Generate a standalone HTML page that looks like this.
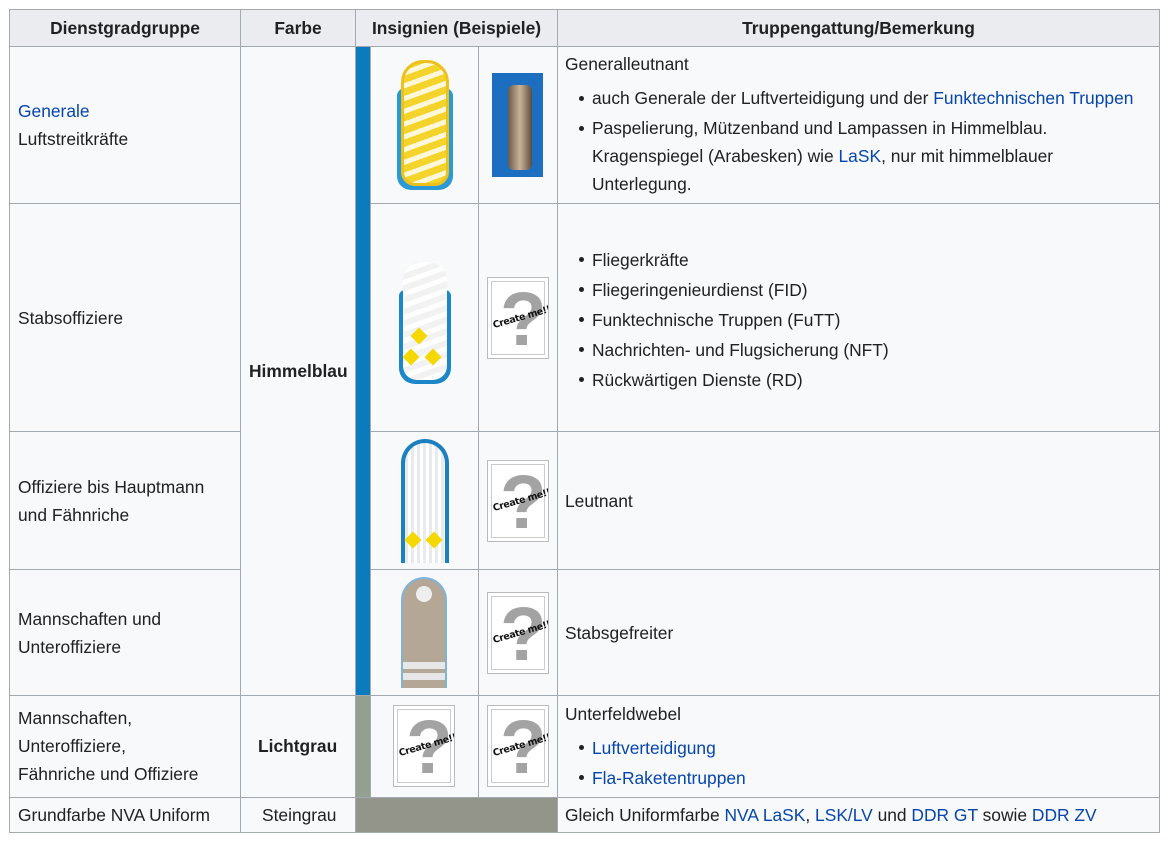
<!DOCTYPE html>
<html><head><meta charset="utf-8"><style>
*{margin:0;padding:0;box-sizing:border-box}
body{width:1172px;height:842px;background:#fff;font-family:"Liberation Sans",sans-serif;font-size:17.4px;color:#202122;position:relative;overflow:hidden}
.c{position:absolute;background:#f8f9fa;border:1px solid #a2a9b1}
.h{background:#eaecf0;font-weight:bold;text-align:center;line-height:36px}
.t{position:absolute;line-height:28px;white-space:nowrap}
a{color:#0645ad;text-decoration:none}
ul{list-style:none}
li{position:relative;padding-left:27px}
li:before{content:"";position:absolute;left:14px;top:12px;width:5px;height:5px;border-radius:50%;background:#202122}
.ph{position:absolute;width:62px;height:82px;background:#fff;border:1px solid #bbb;box-shadow:inset 0 0 0 3px #fff,inset 0 0 0 4px #ccc;overflow:hidden}
.ph b{position:absolute;left:12px;top:-3px;font-size:76px;color:#a3a3a3;font-family:"Liberation Sans",sans-serif;font-weight:bold;line-height:90px}
.ph i{position:absolute;left:4px;top:34px;font-size:9.5px;font-style:normal;font-weight:bold;color:#111;transform:rotate(-16deg);font-family:"DejaVu Sans",sans-serif;white-space:nowrap;letter-spacing:-0.4px}
</style></head><body>
<div class="c h" style="left:9px;top:9px;width:232px;height:38px">Dienstgradgruppe</div>
<div class="c h" style="left:240px;top:9px;width:116px;height:38px">Farbe</div>
<div class="c h" style="left:355px;top:9px;width:203px;height:38px">Insignien (Beispiele)</div>
<div class="c h" style="left:557px;top:9px;width:603px;height:38px">Truppengattung/Bemerkung</div>

<div class="c" style="left:9px;top:46px;width:232px;height:158px"></div>
<div class="c" style="left:9px;top:203px;width:232px;height:229px"></div>
<div class="c" style="left:9px;top:431px;width:232px;height:139px"></div>
<div class="c" style="left:9px;top:569px;width:232px;height:127px"></div>
<div class="c" style="left:9px;top:695px;width:232px;height:103px"></div>
<div class="c" style="left:9px;top:797px;width:232px;height:36px"></div>

<div class="c" style="left:240px;top:46px;width:116px;height:650px"></div>
<div class="c" style="left:240px;top:695px;width:116px;height:103px"></div>
<div class="c" style="left:240px;top:797px;width:116px;height:36px"></div>

<div style="position:absolute;left:355px;top:46px;width:16px;height:650px;background:#0b7bbd;border:1px solid #a2a9b1"></div>
<div style="position:absolute;left:355px;top:695px;width:16px;height:103px;background:#93a08f;border:1px solid #a2a9b1"></div>
<div style="position:absolute;left:355px;top:797px;width:203px;height:36px;background:#94958a;border:1px solid #a2a9b1"></div>

<div class="c" style="left:370px;top:46px;width:109px;height:158px"></div>
<div class="c" style="left:478px;top:46px;width:80px;height:158px"></div>
<div class="c" style="left:370px;top:203px;width:109px;height:229px"></div>
<div class="c" style="left:478px;top:203px;width:80px;height:229px"></div>
<div class="c" style="left:370px;top:431px;width:109px;height:139px"></div>
<div class="c" style="left:478px;top:431px;width:80px;height:139px"></div>
<div class="c" style="left:370px;top:569px;width:109px;height:127px"></div>
<div class="c" style="left:478px;top:569px;width:80px;height:127px"></div>
<div class="c" style="left:370px;top:695px;width:109px;height:103px"></div>
<div class="c" style="left:478px;top:695px;width:80px;height:103px"></div>

<div class="c" style="left:557px;top:46px;width:603px;height:158px"></div>
<div class="c" style="left:557px;top:203px;width:603px;height:229px"></div>
<div class="c" style="left:557px;top:431px;width:603px;height:139px"></div>
<div class="c" style="left:557px;top:569px;width:603px;height:127px"></div>
<div class="c" style="left:557px;top:695px;width:603px;height:103px"></div>
<div class="c" style="left:557px;top:797px;width:603px;height:36px"></div>

<div class="t" style="left:18px;top:97px"><a>Generale</a><br>Luftstreitkräfte</div>
<div class="t" style="left:18px;top:304px">Stabsoffiziere</div>
<div class="t" style="left:18px;top:473px">Offiziere bis Hauptmann<br>und Fähnriche</div>
<div class="t" style="left:18px;top:605px">Mannschaften und<br>Unteroffiziere</div>
<div class="t" style="left:18px;top:704px">Mannschaften,<br>Unteroffiziere,<br>Fähnriche und Offiziere</div>
<div class="t" style="left:18px;top:801px">Grundfarbe NVA Uniform</div>
<div class="t" style="left:249px;top:357px;font-weight:bold">Himmelblau</div>
<div class="t" style="left:258px;top:732px;font-weight:bold">Lichtgrau</div>
<div class="t" style="left:262px;top:801px">Steingrau</div>

<div class="t" style="left:565px;top:50px">Generalleutnant</div>
<ul class="t" style="left:565px;top:84px">
<li>auch Generale der Luftverteidigung und der <a>Funktechnischen Truppen</a></li>
<li style="margin-top:2px">Paspelierung, Mützenband und Lampassen in Himmelblau.<br>Kragenspiegel (Arabesken) wie <a>LaSK</a>, nur mit himmelblauer<br>Unterlegung.</li></ul>
<ul class="t" style="left:565px;top:245px;line-height:30px">
<li>Fliegerkräfte</li><li>Fliegeringenieurdienst (FID)</li><li>Funktechnische Truppen (FuTT)</li><li>Nachrichten- und Flugsicherung (NFT)</li><li>Rückwärtigen Dienste (RD)</li></ul>
<div class="t" style="left:565px;top:487px">Leutnant</div>
<div class="t" style="left:565px;top:619px">Stabsgefreiter</div>
<div class="t" style="left:565px;top:700px">Unterfeldwebel</div>
<ul class="t" style="left:565px;top:733px;line-height:30px"><li><a>Luftverteidigung</a></li><li><a>Fla-Raketentruppen</a></li></ul>
<div class="t" style="left:565px;top:801px">Gleich Uniformfarbe <a>NVA LaSK</a>, <a>LSK/LV</a> und <a>DDR GT</a> sowie <a>DDR ZV</a></div>

<div style="position:absolute;left:397px;top:88px;width:56px;height:102px;background:#2a9ad6;border-radius:8px 8px 14px 14px"></div>
<div style="position:absolute;left:401px;top:60px;width:48px;height:126px;background:repeating-linear-gradient(160deg,#f4d32a 0 7px,#fff8d8 7px 12px);border-radius:22px 22px 14px 14px;border:3px solid #ecc11e"></div>
<div style="position:absolute;left:492px;top:73px;width:51px;height:104px;background:#1c6fc0"></div>
<div style="position:absolute;left:508px;top:85px;width:24px;height:85px;background:linear-gradient(90deg,#6b5a4a,#c9b39a,#5d4c3c);border-radius:6px"></div>

<div style="position:absolute;left:399px;top:290px;width:52px;height:94px;background:#1b86c8;border-radius:6px 6px 16px 16px"></div>
<div style="position:absolute;left:403px;top:262px;width:44px;height:118px;background:repeating-linear-gradient(160deg,#f2f2f2 0 6px,#fff 6px 11px);border-radius:18px 18px 14px 14px"></div>
<div style="position:absolute;left:413px;top:330px;width:12px;height:12px;background:#f5d800;transform:rotate(45deg)"></div>
<div style="position:absolute;left:405px;top:351px;width:12px;height:12px;background:#f5d800;transform:rotate(45deg)"></div>
<div style="position:absolute;left:427px;top:351px;width:12px;height:12px;background:#f5d800;transform:rotate(45deg)"></div>

<div style="position:absolute;left:401px;top:439px;width:48px;height:124px;background:repeating-linear-gradient(90deg,#e8eaec 0 3px,#fff 3px 6px);border:4px solid #1b7fc0;border-bottom:none;border-radius:24px 24px 0 0"></div>
<div style="position:absolute;left:407px;top:534px;width:12px;height:12px;background:#f5d800;transform:rotate(45deg)"></div>
<div style="position:absolute;left:428px;top:534px;width:12px;height:12px;background:#f5d800;transform:rotate(45deg)"></div>

<div style="position:absolute;left:401px;top:577px;width:46px;height:111px;background:#b4a796;border:2px solid #7fb3d9;border-bottom:none;border-radius:23px 23px 0 0"></div>
<div style="position:absolute;left:416px;top:586px;width:16px;height:16px;background:#eee;border-radius:50%"></div>
<div style="position:absolute;left:403px;top:662px;width:42px;height:7px;background:#e7e7e7"></div>
<div style="position:absolute;left:403px;top:673px;width:42px;height:7px;background:#e7e7e7"></div>

<div class="ph" style="left:487px;top:277px"><b>?</b><i>Create me!!</i></div>
<div class="ph" style="left:487px;top:460px"><b>?</b><i>Create me!!</i></div>
<div class="ph" style="left:487px;top:592px"><b>?</b><i>Create me!!</i></div>
<div class="ph" style="left:393px;top:705px"><b>?</b><i>Create me!!</i></div>
<div class="ph" style="left:487px;top:705px"><b>?</b><i>Create me!!</i></div>
</body></html>
